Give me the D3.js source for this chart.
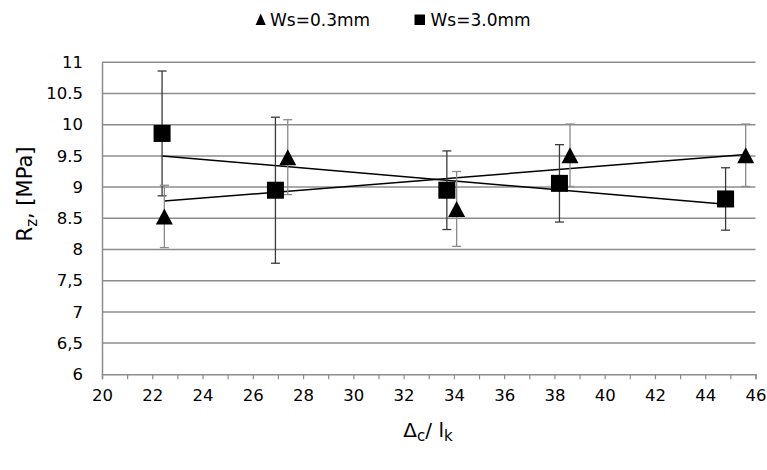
<!DOCTYPE html>
<html><head><meta charset="utf-8">
<script src="https://cdn.jsdelivr.net/npm/d3@7"></script>
<style>body{margin:0;background:#fff}svg{display:block}</style>
</head><body>
<svg id="c" width="767" height="470"></svg>
<script>
// Data
const triX = [22.48, 27.39, 34.11, 38.62, 45.61];
const triY = [8.53, 9.48, 8.65, 9.51, 9.51];
const triErr = [0.5, 0.6, 0.6, 0.5, 0.5];
const sqX = [22.39, 26.9, 33.72, 38.2, 44.81];
const sqY = [9.86, 8.95, 8.95, 9.06, 8.81];
const sqErr = [1.0, 1.17, 0.63, 0.62, 0.5];
const yTicks = [6, 6.5, 7, 7.5, 8, 8.5, 9, 9.5, 10, 10.5, 11];
const yTickLabels = ["6", "6,5", "7", "7,5", "8", "8.5", "9", "9.5", "10", "10.5", "11"];
const xTicks = [20, 22, 24, 26, 28, 30, 32, 34, 36, 38, 40, 42, 44, 46];
const legendLabels = ["Ws=0.3mm", "Ws=3.0mm"];

const svg = d3.select("#c");
const L = 102, R = 755.5, T = 62.3, B = 374.3;
const x = d3.scaleLinear().domain([20, 46]).range([L, R]);
const y = d3.scaleLinear().domain([6, 11]).range([B, T]);
const font = "DejaVu Sans, Verdana, sans-serif";

// gridlines
svg.append("g").selectAll("line").data(yTicks.filter(v => v > 6)).join("line")
  .attr("x1", L).attr("x2", R).attr("y1", d => y(d)).attr("y2", d => y(d))
  .attr("stroke", "#8c8c8c").attr("stroke-width", 1.5);

// x axis
const xAxis = d3.axisBottom(x).tickValues(d3.range(20, 47, 1)).tickSize(5).tickFormat(d => xTicks.includes(d) ? d : "");
const gx = svg.append("g").attr("transform", `translate(0,${B})`).call(xAxis);
gx.select(".domain").attr("stroke", "#8c8c8c").attr("stroke-width", 1.5);
gx.selectAll(".tick line").attr("stroke", "#8c8c8c").attr("stroke-width", 1.2);
gx.selectAll(".tick text").attr("font-family", font).attr("font-size", 16.5).attr("fill", "#000").attr("dy", "1.15em");

// y axis
const yAxis = d3.axisLeft(y).tickValues(yTicks).tickSize(0).tickPadding(19).tickFormat((d, i) => yTickLabels[i]);
const gy = svg.append("g").attr("transform", `translate(${L},0)`).call(yAxis);
gy.select(".domain").attr("stroke", "#8c8c8c").attr("stroke-width", 1.5);
gy.selectAll(".tick text").attr("font-family", font).attr("font-size", 16.5).attr("fill", "#000");

// trendlines (least squares)
function fit(xs, ys) {
  const mx = d3.mean(xs), my = d3.mean(ys);
  const sxy = d3.sum(xs, (v, i) => (v - mx) * (ys[i] - my));
  const sxx = d3.sum(xs, v => (v - mx) ** 2);
  const b = sxy / sxx, a = my - b * mx;
  const x0 = d3.min(xs), x1 = d3.max(xs);
  return [[x0, a + b * x0], [x1, a + b * x1]];
}
const line = d3.line().x(d => x(d[0])).y(d => y(d[1]));
svg.append("path").attr("d", line(fit(triX, triY))).attr("stroke", "#000").attr("stroke-width", 1.5).attr("fill", "none");
svg.append("path").attr("d", line(fit(sqX, sqY))).attr("stroke", "#000").attr("stroke-width", 1.5).attr("fill", "none");

// error bars
function errBars(xs, ys, es, color) {
  const g = svg.append("g").attr("stroke", color).attr("stroke-width", 1.3);
  xs.forEach((xv, i) => {
    const cx = x(xv), y1 = y(ys[i] + es[i]), y2 = y(ys[i] - es[i]);
    g.append("line").attr("x1", cx).attr("x2", cx).attr("y1", y1).attr("y2", y2);
    g.append("line").attr("x1", cx - 4.5).attr("x2", cx + 4.5).attr("y1", y1).attr("y2", y1);
    g.append("line").attr("x1", cx - 4.5).attr("x2", cx + 4.5).attr("y1", y2).attr("y2", y2);
  });
}
errBars(sqX, sqY, sqErr, "#3a3a3a");
errBars(triX, triY, triErr, "#8a8a8a");

// markers
const sq = 17, tw = 17, th = 16;
svg.append("g").selectAll("rect").data(sqX).join("rect")
  .attr("x", d => x(d) - sq / 2).attr("y", (d, i) => y(sqY[i]) - sq / 2)
  .attr("width", sq).attr("height", sq).attr("fill", "#000");
svg.append("g").selectAll("path").data(triX).join("path")
  .attr("d", (d, i) => {
    const cx = x(d), cy = y(triY[i]);
    return `M${cx},${cy - th / 2}L${cx + tw / 2},${cy + th / 2}L${cx - tw / 2},${cy + th / 2}Z`;
  }).attr("fill", "#000");

// legend
const lg = svg.append("g");
lg.append("path").attr("d", "M260.7,13.5L265.8,25L255.6,25Z").attr("fill", "#000");
lg.append("text").attr("x", 270).attr("y", 26).text(legendLabels[0])
  .attr("font-family", font).attr("font-size", 17);
lg.append("rect").attr("x", 414.5).attr("y", 14.5).attr("width", 10.5).attr("height", 10.5).attr("fill", "#000");
lg.append("text").attr("x", 430.5).attr("y", 26).text(legendLabels[1])
  .attr("font-family", font).attr("font-size", 17);

// axis titles
const yt = svg.append("text").attr("transform", "translate(32,194) rotate(-90)")
  .attr("text-anchor", "middle").attr("font-family", font).attr("font-size", 21);
yt.append("tspan").text("R");
yt.append("tspan").text("z").attr("font-size", 15).attr("dy", 5);
yt.append("tspan").text(", [MPa]").attr("dy", -5);

const xt = svg.append("text").attr("x", 428).attr("y", 437)
  .attr("text-anchor", "middle").attr("font-family", font).attr("font-size", 20);
xt.append("tspan").text("Δ");
xt.append("tspan").text("c").attr("font-size", 15).attr("dy", 4);
xt.append("tspan").text("/ l").attr("dy", -4);
xt.append("tspan").text("k").attr("font-size", 15).attr("dy", 4);
</script>
</body></html>
